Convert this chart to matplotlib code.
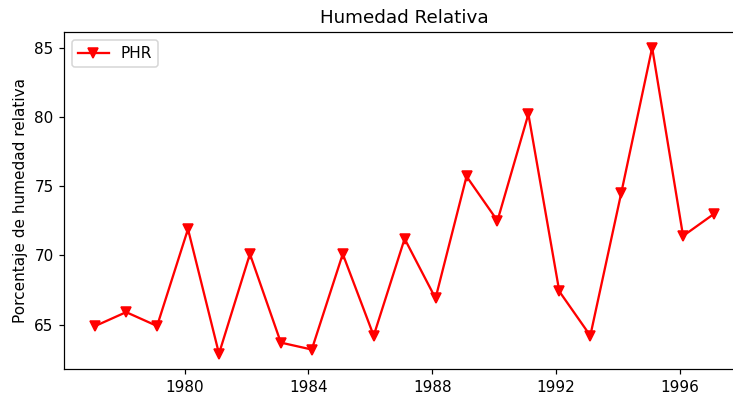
import datetime as dt
import matplotlib
matplotlib.use('Agg')
import matplotlib.pyplot as plt
import matplotlib.dates as mdates

# Annual relative humidity readings
years = list(range(1977, 1998))
phr = [64.9, 65.9, 64.9, 71.9, 62.9, 70.1, 63.7, 63.2, 70.1, 64.2, 71.2,
       66.9, 75.7, 72.5, 80.2, 67.4, 64.2, 74.5, 85.0, 71.4, 73.0]

# readings are taken in early February of each year
dates = [dt.datetime(y, 2, 10) for y in years]

DPI = 110
fig = plt.figure(figsize=(733 / DPI, 396 / DPI), dpi=DPI)
ax = fig.add_axes([0.0877, 0.0682, 0.9287, 0.8502])

ax.plot(dates, phr, color='red', marker='v', label='PHR')
ax.set_title("Humedad Relativa")
ax.set_ylabel("Porcentaje de humedad relativa")
ax.xaxis.set_major_locator(mdates.YearLocator(4))
ax.xaxis.set_major_formatter(mdates.DateFormatter('%Y'))
ax.legend(loc='upper left')

plt.savefig('out.png', dpi=DPI)
